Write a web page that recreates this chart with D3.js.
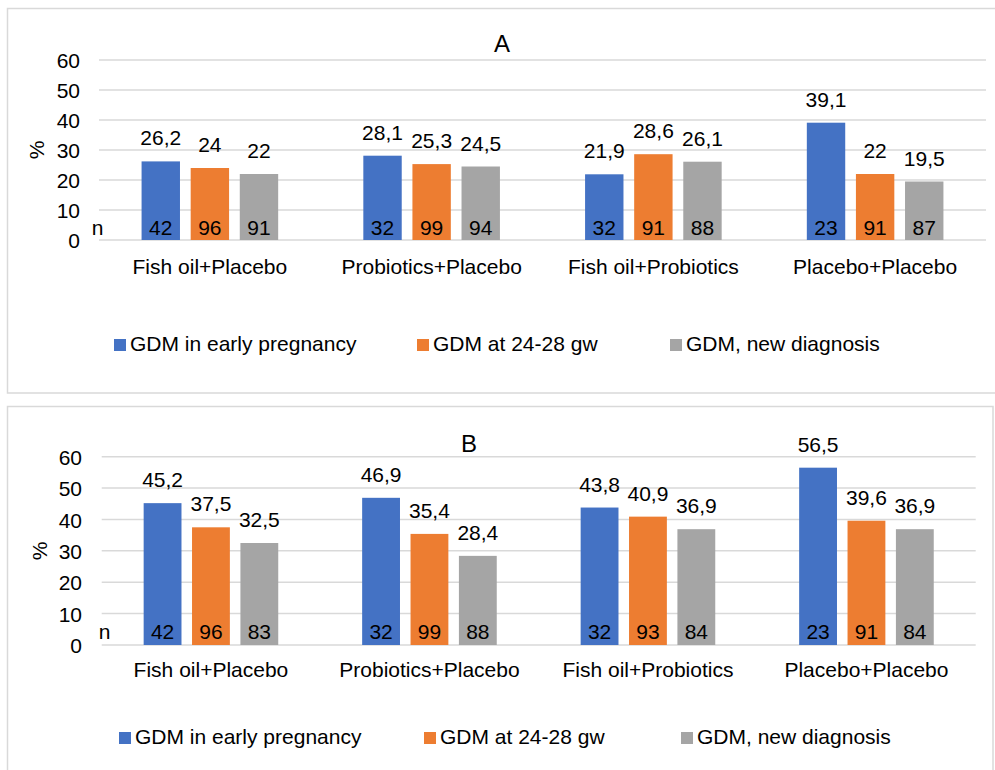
<!DOCTYPE html>
<html><head><meta charset="utf-8">
<script src="https://cdn.jsdelivr.net/npm/d3@7"></script>
<style>
body{margin:0;background:#fff}
svg{display:block}
text{font-family:"Liberation Sans",Arial,Helvetica,sans-serif;fill:#000}
</style>
</head><body><svg id="c" width="995" height="770"></svg>
<script>
// ---- data ----
const categories = ["Fish oil+Placebo","Probiotics+Placebo","Fish oil+Probiotics","Placebo+Placebo"];
const seriesNames = ["GDM in early pregnancy","GDM at 24-28 gw","GDM, new diagnosis"];
const seriesColors = ["#4472C4","#ED7D31","#A5A5A5"];
const yTicks = [0,10,20,30,40,50,60];

const aEarly = [26.2,28.1,21.9,39.1];
const aWeek  = [24,25.3,28.6,22];
const aNew   = [22,24.5,26.1,19.5];
const aNEarly = [42,32,32,23];
const aNWeek  = [96,99,91,91];
const aNNew   = [91,94,88,87];

const bEarly = [45.2,46.9,43.8,56.5];
const bWeek  = [37.5,35.4,40.9,39.6];
const bNew   = [32.5,28.4,36.9,36.9];
const bNEarly = [42,32,32,23];
const bNWeek  = [96,99,93,91];
const bNNew   = [83,88,84,84];

// ---- drawing ----
const svg = d3.select("#c");
const FS = 21;
const fmt = v => String(v).replace(".", ",");

function drawPanel(p) {
  const g = svg.append("g");
  g.append("rect").attr("x", p.box[0]).attr("y", p.box[1]).attr("width", p.box[2]).attr("height", p.box[3])
    .attr("fill", "#fff").attr("stroke", "#d9d9d9").attr("stroke-width", 1.5);

  const y = d3.scaleLinear().domain([0, 60]).range([p.y0, p.y60]);
  const x0 = d3.scaleBand().domain(categories).range([p.xL, p.xR]).paddingInner(0.384).paddingOuter(0.192);
  const x1 = d3.scaleBand().domain(seriesNames).range([0, x0.bandwidth()]).paddingInner(0.218);

  // grid
  g.append("g").selectAll("line").data(yTicks).join("line")
    .attr("x1", p.xL).attr("x2", p.xR)
    .attr("y1", d => y(d)).attr("y2", d => y(d))
    .attr("stroke", "#d9d9d9").attr("stroke-width", 1.5);

  // y axis
  const ya = g.append("g").attr("transform", `translate(${p.xL},0)`)
    .call(d3.axisLeft(y).tickValues(yTicks).tickSize(0).tickPadding(p.xL - p.tickRight));
  ya.select(".domain").remove();
  ya.selectAll("text").attr("font-size", FS).attr("fill", "#000").attr("dy", "0.36em")
    .style("font-family", '"Liberation Sans",Arial,sans-serif');

  // x axis labels
  const xa = g.append("g").attr("transform", `translate(0,${p.y0})`)
    .call(d3.axisBottom(x0).tickSize(0).tickPadding(0));
  xa.select(".domain").remove();
  xa.selectAll("text").attr("font-size", FS).attr("fill", "#000")
    .attr("y", p.xLabelBase - p.y0).attr("dy", 0)
    .style("font-family", '"Liberation Sans",Arial,sans-serif');

  // bars
  const rows = categories.flatMap((c, i) => p.values.map((arr, s) => ({
    c, s, v: arr[i], n: p.ns[s][i]
  })));
  const bars = g.append("g");
  bars.selectAll("rect").data(rows).join("rect")
    .attr("x", d => x0(d.c) + x1(seriesNames[d.s]))
    .attr("width", x1.bandwidth())
    .attr("y", d => y(d.v))
    .attr("height", d => y(0) - y(d.v))
    .attr("fill", d => seriesColors[d.s]);

  // value labels
  bars.selectAll("text.v").data(rows).join("text").attr("class", "v")
    .attr("x", d => x0(d.c) + x1(seriesNames[d.s]) + x1.bandwidth() / 2)
    .attr("y", d => y(d.v) - 16)
    .attr("text-anchor", "middle").attr("font-size", FS)
    .text(d => fmt(d.v));

  // n labels
  bars.selectAll("text.n").data(rows).join("text").attr("class", "n")
    .attr("x", d => x0(d.c) + x1(seriesNames[d.s]) + x1.bandwidth() / 2)
    .attr("y", p.nBase)
    .attr("text-anchor", "middle").attr("font-size", FS)
    .text(d => d.n);

  g.append("text").attr("x", p.nX).attr("y", p.nBase).attr("text-anchor", "middle")
    .attr("font-size", FS).text("n");

  // y title
  g.append("text").attr("transform", `translate(${p.pctX},${(p.y0 + p.y60) / 2}) rotate(-90)`)
    .attr("text-anchor", "middle").attr("dy", "0.35em").attr("font-size", FS).text("%");

  // chart title
  g.append("text").attr("x", p.titleX).attr("y", p.titleY).attr("text-anchor", "middle")
    .attr("font-size", 24).text(p.title);

  // legend
  const lg = g.append("g");
  seriesNames.forEach((name, i) => {
    const lx = p.legendX[i];
    lg.append("rect").attr("x", lx).attr("y", p.legendY - 12).attr("width", 12).attr("height", 12)
      .attr("fill", seriesColors[i]);
    lg.append("text").attr("x", lx + 16).attr("y", p.legendY).attr("font-size", FS).text(name);
  });
}

drawPanel({
  title: "A", titleX: 502, titleY: 52,
  box: [7.5, 8.5, 1000, 384.5],
  xL: 99, xR: 986, y0: 240, y60: 60, tickRight: 80,
  xLabelBase: 273.5, nBase: 235, nX: 97.5, pctX: 37,
  legendX: [114, 417, 670], legendY: 351,
  values: [aEarly, aWeek, aNew], ns: [aNEarly, aNWeek, aNNew]
});

drawPanel({
  title: "B", titleX: 469, titleY: 452,
  box: [7.5, 406.5, 985.5, 400],
  xL: 101.7, xR: 975.7, y0: 645, y60: 456.7, tickRight: 82,
  xLabelBase: 677, nBase: 638.5, nX: 104.5, pctX: 40,
  legendX: [119, 424, 681], legendY: 744,
  values: [bEarly, bWeek, bNew], ns: [bNEarly, bNWeek, bNNew]
});
</script>
</body></html>
